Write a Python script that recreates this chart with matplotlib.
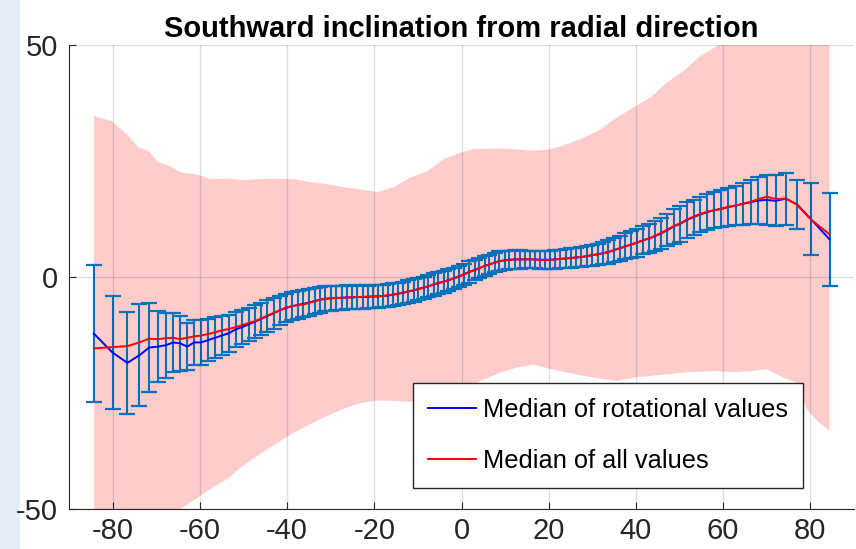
import matplotlib
matplotlib.use('Agg')
import matplotlib.pyplot as plt
from matplotlib.patches import Rectangle
import numpy as np

plt.rcParams['font.family'] = ['Liberation Sans', 'DejaVu Sans']
plt.rcParams['axes.unicode_minus'] = False

#%% data
# latitude bins (deg)
lat = [-84.3, -80.0, -76.6, -73.9, -71.6, -69.6, -67.8, -66.1, -64.5, -62.9,
       -61.3, -59.7, -58.1, -56.5, -54.9, -53.3, -51.8, -50.3, -48.8, -47.3,
       -45.9, -44.5, -43.1, -41.7, -40.3, -38.9, -37.6, -36.3, -35.0, -33.7,
       -32.4, -31.2, -29.9, -28.7, -27.5, -26.3, -25.1, -23.9, -22.7, -21.5,
       -20.3, -19.2, -18.0, -16.8, -15.7, -14.5, -13.3, -12.2, -11.0, -9.9,
       -8.7, -7.6, -6.4, -5.3, -4.1, -3.0, -1.8, -0.6,
       0.6, 1.8, 3.0, 4.1, 5.3, 6.4, 7.6, 8.7, 9.9, 11.0,
       12.2, 13.3, 14.5, 15.7, 16.8, 18.0, 19.2, 20.3, 21.5, 22.7,
       23.9, 25.1, 26.3, 27.5, 28.7, 29.9, 31.2, 32.4, 33.7, 35.0,
       36.3, 37.6, 38.9, 40.2, 41.6, 43.0, 44.4, 45.8, 47.2, 48.7,
       50.2, 51.7, 53.2, 54.8, 56.4, 58.0, 59.6, 61.2, 62.9, 64.6,
       66.3, 68.1, 70.0, 72.1, 74.4, 77.0, 80.1, 84.4]

# median of rotational values
med_rot = [-12.2, -16.3, -18.5, -16.9, -15.2, -15.0, -14.7, -14.1, -14.3, -15.0,
           -14.1, -14.1, -13.6, -13.1, -12.6, -12.1, -11.3, -10.8, -10.2, -9.6,
           -9.0, -8.4, -7.8, -7.2, -6.7, -6.3, -6.0, -5.8, -5.5, -5.2,
           -4.9, -4.7, -4.6, -4.5, -4.5, -4.4, -4.4, -4.3, -4.3, -4.3,
           -4.2, -4.2, -4.1, -4.0, -3.8, -3.6, -3.4, -3.1, -2.9, -2.6,
           -2.3, -2.0, -1.6, -1.3, -1.0, -0.7, -0.3, 0.1,
           0.6, 1.1, 1.5, 1.9, 2.4, 2.7, 3.1, 3.4, 3.6, 3.7,
           3.8, 3.8, 3.8, 3.8, 3.8, 3.7, 3.7, 3.7, 3.8, 3.9,
           4.0, 4.1, 4.2, 4.3, 4.5, 4.7, 4.9, 5.1, 5.4, 5.8,
           6.2, 6.6, 7.0, 7.4, 7.9, 8.3, 8.8, 9.4, 10.1, 10.9,
           11.5, 12.3, 12.9, 13.5, 14.0, 14.4, 14.7, 15.1, 15.4, 15.8,
           16.1, 16.5, 16.6, 16.4, 16.9, 15.6, 12.5, 8.1]

# median of all values
med_all = [-15.4, -15.1, -14.9, -14.1, -13.3, -13.4, -13.2, -13.1, -13.4, -13.1,
           -12.8, -12.6, -12.3, -11.9, -11.5, -11.2, -10.8, -10.4, -9.9, -9.5,
           -8.9, -8.3, -7.8, -7.2, -6.6, -6.3, -6.1, -5.9, -5.6, -5.2,
           -4.9, -4.7, -4.6, -4.5, -4.5, -4.4, -4.4, -4.3, -4.3, -4.2,
           -4.2, -4.1, -4.1, -3.9, -3.8, -3.6, -3.3, -3.1, -2.9, -2.6,
           -2.3, -2.0, -1.6, -1.3, -1.0, -0.7, -0.3, 0.1,
           0.6, 1.1, 1.5, 1.9, 2.4, 2.7, 3.1, 3.4, 3.6, 3.7,
           3.8, 3.8, 3.8, 3.8, 3.8, 3.7, 3.7, 3.7, 3.8, 3.9,
           4.0, 4.1, 4.2, 4.3, 4.5, 4.7, 4.9, 5.1, 5.4, 5.8,
           6.2, 6.6, 7.0, 7.4, 7.9, 8.3, 8.9, 9.5, 10.2, 11.0,
           11.6, 12.4, 13.0, 13.6, 14.1, 14.4, 14.7, 15.1, 15.4, 15.8,
           16.2, 16.8, 17.3, 16.8, 16.9, 15.5, 12.4, 9.2]

# error bar half length (around rotational median)
err_rot = [14.8, 12.1, 11.0, 11.0, 9.5, 7.6, 7.0, 6.4, 6.0, 5.0,
           4.9, 4.8, 4.6, 4.4, 4.2, 4.0, 3.8, 3.7, 3.6, 3.5,
           3.4, 3.4, 3.3, 3.2, 3.1, 3.0, 3.0, 2.9, 2.9, 2.8,
           2.8, 2.7, 2.7, 2.6, 2.6, 2.6, 2.5, 2.5, 2.5, 2.4,
           2.4, 2.4, 2.4, 2.4, 2.4, 2.4, 2.4, 2.4, 2.4, 2.4,
           2.4, 2.4, 2.4, 2.4, 2.4, 2.4, 2.3, 2.3,
           2.3, 2.3, 2.2, 2.2, 2.2, 2.1, 2.1, 2.1, 2.0, 2.0,
           2.0, 2.0, 1.9, 1.9, 1.9, 1.9, 1.9, 1.9, 2.0, 2.0,
           2.0, 2.1, 2.1, 2.2, 2.2, 2.3, 2.3, 2.4, 2.5, 2.6,
           2.7, 2.8, 2.9, 3.0, 3.0, 3.1, 3.2, 3.3, 3.5, 3.7,
           3.9, 3.9, 3.8, 3.8, 3.8, 3.9, 4.0, 4.1, 4.2, 4.5,
           4.7, 5.0, 5.3, 5.5, 5.6, 5.2, 7.8, 10.1]

# spread of all values (shaded band)
band_lat = [-84.3, -80.2, -76.7, -74.1, -71.8, -69.5, -66.8, -64.5, -60.7, -57.6,
            -53.8, -50.0, -46.2, -42.3, -38.5, -34.7, -30.9, -27.1, -23.2, -19.4,
            -15.6, -11.8, -7.9, -4.1, -0.3, 3.0, 8.9, 12.7, 16.5, 20.3,
            24.2, 28.0, 31.8, 35.6, 39.4, 43.3, 47.1, 50.9, 54.7, 58.6,
            62.4, 66.2, 70.0, 73.9, 76.9, 79.2, 81.5, 84.4]
band_hi = [34.7, 33.6, 30.8, 27.9, 27.2, 24.7, 23.9, 22.6, 22.1, 21.1,
           21.2, 20.9, 21.1, 21.2, 21.1, 20.5, 20.0, 19.4, 18.9, 18.3,
           19.3, 21.4, 22.8, 25.4, 26.8, 27.6, 27.7, 27.5, 27.2, 27.5,
           28.6, 30.0, 31.8, 34.4, 36.5, 38.7, 41.9, 44.4, 47.6, 49.8,
           53.0, 56.0, 58.0, 60.0, 61.0, 62.0, 63.0, 64.0]
band_lo = [-72.0, -68.0, -64.0, -61.0, -58.0, -56.0, -53.0, -50.1, -47.7, -45.7,
           -43.6, -40.6, -38.2, -35.8, -33.6, -31.7, -30.0, -28.4, -27.2, -26.6,
           -26.7, -26.9, -26.0, -25.0, -24.0, -23.0, -20.6, -19.5, -18.9, -19.8,
           -20.6, -21.3, -21.9, -22.4, -21.7, -21.3, -21.0, -20.6, -20.4, -20.3,
           -20.5, -20.3, -19.9, -21.7, -22.8, -28.5, -31.0, -33.2]

#%% plot
fig = plt.figure(figsize=(8.56, 5.49), dpi=100)
fig.patches.append(Rectangle((0, 0), 20 / 856, 1, transform=fig.transFigure,
                             facecolor='#e5ecf6', edgecolor='none', zorder=-1))
ax = fig.add_axes([69 / 856, 40 / 549, 785 / 856, 464 / 549])

ax.fill_between(band_lat, band_lo, band_hi, color='#ffcccc', linewidth=0, zorder=1)
ax.errorbar(lat, med_rot, yerr=err_rot, fmt='none', ecolor='#0072bd',
            elinewidth=1.5, capsize=5.5, capthick=1.6, zorder=2)
ax.plot(lat, med_rot, color='blue', linewidth=1.4, label='Median of rotational values', zorder=3)
ax.plot(lat, med_all, color='red', linewidth=1.4, label='Median of all values', zorder=4)

ax.set_xlim(-90, 90)
ax.set_ylim(-50, 50)
ax.set_xticks(np.arange(-80, 81, 20))
ax.set_yticks([-50, 0, 50])
ax.grid(True, color='k', alpha=0.13, linewidth=1)
ax.set_axisbelow(False)
for s in ['top', 'right']:
    ax.spines[s].set_visible(False)
for s in ['left', 'bottom']:
    ax.spines[s].set_color('#262626')
ax.tick_params(direction='in', length=5, labelsize=21, colors='#262626')
ax.tick_params(axis='x', pad=6)
ax.tick_params(axis='y', pad=8)

ax.set_title('Southward inclination from radial direction', fontsize=21, fontweight='bold', pad=6)

leg = ax.legend(loc='upper left', bbox_to_anchor=(0.438, 0.272), borderaxespad=0,
                fontsize=18.3, handlelength=1.9, handletextpad=0.25, borderpad=0.6,
                labelspacing=1.05, fancybox=False, framealpha=1)
leg.get_frame().set_edgecolor('#262626')
leg.get_frame().set_linewidth(1)
leg.set_zorder(10)

plt.savefig('out.png', dpi=100)
